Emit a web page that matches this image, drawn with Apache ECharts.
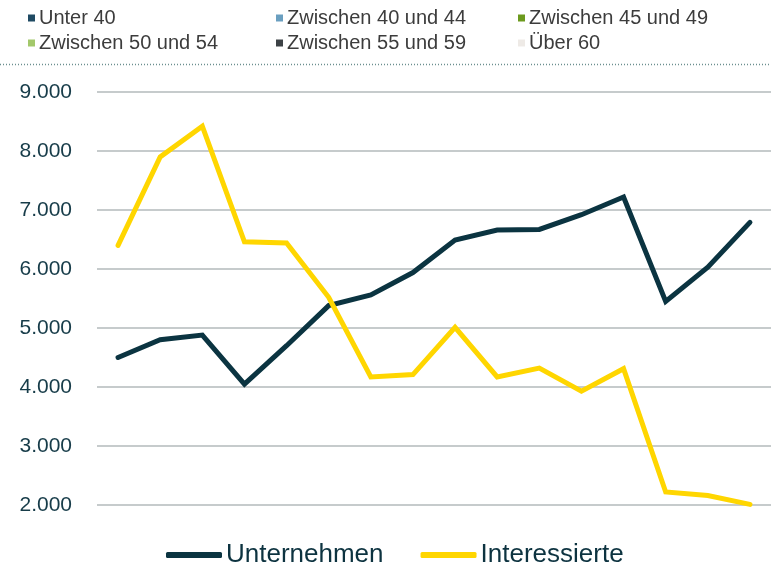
<!DOCTYPE html>
<html>
<head>
<meta charset="utf-8">
<script src="https://cdn.jsdelivr.net/npm/echarts@6/dist/echarts.min.js"></script>
<style>html,body{margin:0;padding:0;background:#fff}#c{width:771px;height:566px}</style>
</head>
<body>
<div id="c"></div>
<script>
const categories = ['1','2','3','4','5','6','7','8','9','10','11','12','13','14','15','16'];
const unternehmen = [4500, 4800, 4880, 4050, 4700, 5380, 5560, 5940, 6490, 6660, 6670, 6920, 7220, 5450, 6030, 6790];
const interessierte = [6400, 7900, 8420, 6460, 6440, 5520, 4170, 4210, 5010, 4170, 4320, 3930, 4310, 2220, 2160, 2010];
const yTicks = { min: 2000, max: 9000, interval: 1000 };
const ageGroups = ['Unter 40', 'Zwischen 40 und 44', 'Zwischen 45 und 49', 'Zwischen 50 und 54', 'Zwischen 55 und 59', 'Über 60'];
const ageColors = ['#1f4a63', '#6a9fc0', '#6c9a1e', '#a3c86b', '#3d4246', '#eeeae6'];

const FONT = "'Liberation Sans', Arial, sans-serif";
const agePos = [[28, 8], [276, 8], [518, 8], [28, 33], [276, 33], [518, 33]];

const legends = ageGroups.map((n, i) => ({
  data: [n], left: agePos[i][0], top: agePos[i][1], padding: 0,
  icon: 'rect', itemWidth: 7, itemHeight: 7, itemGap: 0,
  textStyle: { fontFamily: FONT, fontSize: 20, color: '#3c3c3c', padding: [0,0,0,-1] },
  selectedMode: false
}));
legends.push({
  data: ['Unternehmen', 'Interessierte'], left: 166, top: 542, padding: 0,
  icon: 'roundRect', itemWidth: 56, itemHeight: 6, itemGap: 37,
  textStyle: { fontFamily: FONT, fontSize: 26, color: '#0d3340', padding: [0,0,0,-1] },
  selectedMode: false
});

const ageSeries = ageGroups.map((n, i) => ({
  name: n, type: 'line', data: [], itemStyle: { color: ageColors[i] }, lineStyle: { color: ageColors[i] }
}));

const chart = echarts.init(document.getElementById('c'), null, { renderer: 'canvas' });
chart.setOption({
  backgroundColor: '#ffffff',
  animation: false,
  legend: legends,
  grid: { left: 97, right: -6, top: 92, bottom: 61, containLabel: false },
  xAxis: {
    type: 'category', data: categories, boundaryGap: true,
    axisLine: { show: false }, axisTick: { show: false }, axisLabel: { show: false }, splitLine: { show: false }
  },
  yAxis: {
    type: 'value', min: yTicks.min, max: yTicks.max, interval: yTicks.interval,
    axisLine: { show: false }, axisTick: { show: false },
    axisLabel: {
      fontFamily: FONT, fontSize: 21, color: '#173c49', margin: 25,
      formatter: v => String(v).replace(/\B(?=(\d{3})+(?!\d))/g, '.')
    },
    splitLine: { lineStyle: { color: '#c6cbcc', width: 2 } }
  },
  graphic: [{
    type: 'line', shape: { x1: 0, y1: 64.5, x2: 771, y2: 64.5 },
    style: { stroke: '#6b8f8f', lineWidth: 1.5, lineDash: [1, 2] }, silent: true
  }],
  series: ageSeries.concat([
    { name: 'Unternehmen', type: 'line', data: unternehmen, symbol: 'none', showSymbol: false,
      itemStyle: { color: '#0b3441' },
      lineStyle: { color: '#0b3441', width: 5, cap: 'round', join: 'miter' } },
    { name: 'Interessierte', type: 'line', data: interessierte, symbol: 'none', showSymbol: false,
      itemStyle: { color: '#ffd600' },
      lineStyle: { color: '#ffd600', width: 5, cap: 'round', join: 'miter' } }
  ])
});
</script>
</body>
</html>
